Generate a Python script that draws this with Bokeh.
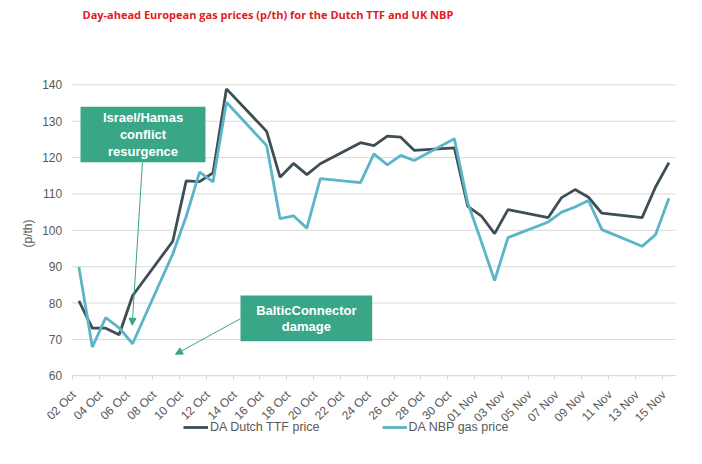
import pandas as pd
from bokeh.plotting import figure
from bokeh.models import (Range1d, FixedTicker, Label, BoxAnnotation, Arrow,
                          NormalHead, Legend, LegendItem, ColumnDataSource)
from bokeh.embed import file_html
from bokeh.resources import INLINE

# ---------------- data ----------------
dates = ["2023-10-02", "2023-10-03", "2023-10-04", "2023-10-05", "2023-10-06",
         "2023-10-09", "2023-10-10", "2023-10-11", "2023-10-12", "2023-10-13",
         "2023-10-16", "2023-10-17", "2023-10-18", "2023-10-19", "2023-10-20",
         "2023-10-23", "2023-10-24", "2023-10-25", "2023-10-26", "2023-10-27",
         "2023-10-30", "2023-10-31", "2023-11-01", "2023-11-02", "2023-11-03",
         "2023-11-06", "2023-11-07", "2023-11-08", "2023-11-09", "2023-11-10",
         "2023-11-13", "2023-11-14", "2023-11-15"]
ttf = [80.6, 73.1, 73.1, 71.3, 82.0, 97.0, 113.6, 113.4, 115.8, 138.9,
       127.2, 114.6, 118.4, 115.3, 118.3, 124.1, 123.3, 125.9, 125.6, 122.0,
       122.7, 106.6, 104.0, 99.1, 105.7, 103.5, 109.0, 111.2, 109.1, 104.7,
       103.5, 111.9, 118.6]
nbp = [89.9, 67.9, 76.0, 73.2, 68.8, 93.5, 103.8, 116.0, 113.3, 135.2,
       123.3, 103.2, 104.0, 100.6, 114.2, 113.1, 121.0, 118.0, 120.6, 119.2,
       125.2, 107.5, 97.0, 86.2, 98.0, 102.3, 105.0, 106.4, 108.2, 100.2,
       95.6, 98.8, 108.8]
tick_labels = ["02 Oct", "04 Oct", "06 Oct", "08 Oct", "10 Oct", "12 Oct",
               "14 Oct", "16 Oct", "18 Oct", "20 Oct", "22 Oct", "24 Oct",
               "26 Oct", "28 Oct", "30 Oct", "01 Nov", "03 Nov", "05 Nov",
               "07 Nov", "09 Nov", "11 Nov", "13 Nov", "15 Nov"]
y_ticks = [60, 70, 80, 90, 100, 110, 120, 130, 140]
series_names = ["DA Dutch TTF price", "DA NBP gas price"]
title_text = "Day-ahead European gas prices (p/th) for the Dutch TTF and UK NBP"
y_title = "(p/th)"

start = pd.Timestamp("2023-10-02")
end = pd.Timestamp("2023-11-16")
n_days = (end - start).days
xd = [(pd.Timestamp(d) - start).days + 0.5 for d in dates]
src = ColumnDataSource(dict(x=xd, ttf=ttf, nbp=nbp))

# tick boundaries every 2 days; labels anchored just right of the boundary
bounds = [float(2 * i) for i in range(len(tick_labels))]
label_pos = [b + 0.12 for b in bounds]

FONT = "Liberation Sans"
GREY_TXT = "#595959"
GRID = "#d9d9d9"
C_TTF = "#3e4d56"
C_NBP = "#5bb4c8"
TEAL = "#3aa688"

W, H = 686, 448
# the frame covers the whole canvas; axes are placed inside it
p = figure(width=W, height=H, output_backend="svg", toolbar_location=None,
           x_range=Range1d(-5.347, 45.81), y_range=Range1d(40.0, 163.2),
           min_border_left=0, min_border_right=0, min_border_top=0,
           min_border_bottom=0)
p.outline_line_color = None
p.background_fill_color = "white"
p.border_fill_color = "white"
p.grid.visible = False

# horizontal gridlines over the plot area only
p.segment(x0=[0] * len(y_ticks), x1=[n_days] * len(y_ticks), y0=y_ticks,
          y1=y_ticks, line_color=GRID, line_width=1)

# x axis at y = 60
p.xaxis.fixed_location = y_ticks[0]
p.xaxis.bounds = (0, n_days)
p.xaxis.ticker = FixedTicker(ticks=label_pos, minor_ticks=bounds)
p.xaxis.major_label_overrides = {t: l for t, l in zip(label_pos, tick_labels)}
p.xaxis.major_label_orientation = 0.785398
p.xaxis.major_label_text_font = FONT
p.xaxis.major_label_text_font_size = "12px"
p.xaxis.major_label_text_color = GREY_TXT
p.xaxis.axis_line_color = GRID
p.xaxis.major_tick_line_color = None
p.xaxis.major_tick_out = 0
p.xaxis.major_tick_in = 0
p.xaxis.minor_tick_line_color = GRID
p.xaxis.minor_tick_out = 4
p.xaxis.minor_tick_in = 0
p.xaxis.major_label_standoff = 13

# y axis at the left edge of the plot area
p.yaxis.fixed_location = 0
p.yaxis.bounds = (y_ticks[0], y_ticks[-1])
p.yaxis.ticker = FixedTicker(ticks=y_ticks)
p.yaxis.axis_line_color = None
p.yaxis.major_tick_line_color = None
p.yaxis.major_tick_out = 0
p.yaxis.major_tick_in = 0
p.yaxis.minor_tick_line_color = None
p.yaxis.major_label_text_font = FONT
p.yaxis.major_label_text_font_size = "12px"
p.yaxis.major_label_text_color = GREY_TXT
p.yaxis.major_label_standoff = 10

p.add_layout(Label(x=27.5, y=H - 233, x_units="screen", y_units="screen",
                   text=y_title, angle=1.5708, text_font=FONT,
                   text_font_size="12px", text_color=GREY_TXT,
                   text_align="center", text_baseline="middle"))

# lines
r1 = p.line("x", "ttf", source=src, line_color=C_TTF, line_width=2.8)
r2 = p.line("x", "nbp", source=src, line_color=C_NBP, line_width=2.8)

legend = Legend(items=[LegendItem(label=series_names[0], renderers=[r1]),
                       LegendItem(label=series_names[1], renderers=[r2])],
                orientation="horizontal", location=(183, 14),
                glyph_width=25, glyph_height=14, label_height=14,
                label_standoff=2, spacing=62, padding=0, margin=0,
                border_line_color=None, background_fill_alpha=0,
                label_text_font=FONT, label_text_font_size="12.5px",
                label_text_color=GREY_TXT)
p.add_layout(legend, "center")

# title
p.add_layout(Label(x=82, y=H - 14, x_units="screen", y_units="screen",
                   text=title_text,
                   text_font="Open Sans", text_font_style="bold",
                   text_font_size="11px",
                   text_color="#e31a1c", text_baseline="middle", text_align="left"))

# annotation 1
p.add_layout(BoxAnnotation(left=0.62, right=9.94, top=134.0, bottom=118.7,
                           fill_color=TEAL, fill_alpha=1, line_color=None))
p.add_layout(Label(x=5.28, y=126.4, text="Israel/Hamas\nconflict\nresurgence",
                   text_font=FONT, text_font_style="bold", text_font_size="13px",
                   text_color="white", text_align="center", text_baseline="middle",
                   text_line_height=1.15))
p.add_layout(Arrow(x_start=5.24, y_start=118.7, x_end=4.47, y_end=73.9,
                   line_color=TEAL, line_width=1,
                   end=NormalHead(size=7, fill_color=TEAL, line_color=TEAL)))

# annotation 2
p.add_layout(BoxAnnotation(left=12.55, right=22.37, top=82.1, bottom=69.5,
                           fill_color=TEAL, fill_alpha=1, line_color=None))
p.add_layout(Label(x=17.46, y=75.8, text="BalticConnector\ndamage",
                   text_font=FONT, text_font_style="bold", text_font_size="13px",
                   text_color="white", text_align="center", text_baseline="middle",
                   text_line_height=1.1))
p.add_layout(Arrow(x_start=12.55, y_start=75.7, x_end=7.70, y_end=65.9,
                   line_color=TEAL, line_width=1,
                   end=NormalHead(size=7, fill_color=TEAL, line_color=TEAL)))

open("out.html", "w").write(file_html(p, INLINE))
